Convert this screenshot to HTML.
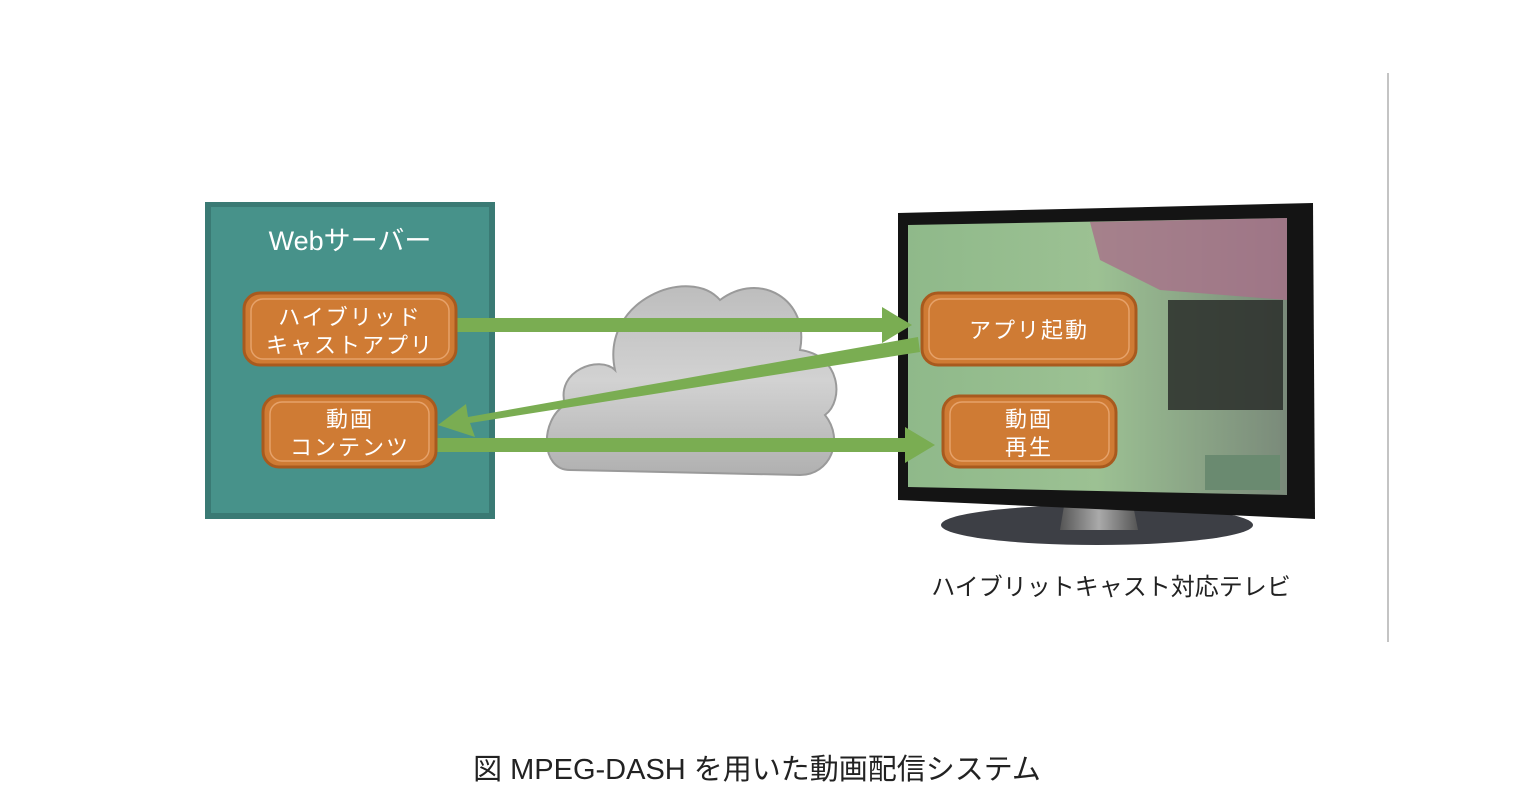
<!DOCTYPE html>
<html><head><meta charset="utf-8"><style>
body{margin:0;background:#fff;width:1516px;height:802px;overflow:hidden}
svg{display:block}
text{font-family:"Liberation Sans","Noto Sans CJK JP",sans-serif}
</style></head><body>
<svg width="1516" height="802" viewBox="0 0 1516 802">
<defs>
<linearGradient id="cl" x1="0" y1="0" x2="0" y2="1"><stop offset="0" stop-color="#bdbdbd"/><stop offset="0.5" stop-color="#d2d2d2"/><stop offset="1" stop-color="#b0b0b0"/></linearGradient>
<linearGradient id="scr" x1="0" y1="0" x2="1" y2="0"><stop offset="0" stop-color="#8fb98a"/><stop offset="0.5" stop-color="#9cc193"/><stop offset="1" stop-color="#7a8a7a"/></linearGradient>
<linearGradient id="neck" x1="0" y1="0" x2="1" y2="0"><stop offset="0" stop-color="#555"/><stop offset="0.5" stop-color="#aaa"/><stop offset="1" stop-color="#555"/></linearGradient>
</defs>
<line x1="1388" y1="73" x2="1388" y2="642" stroke="#888" stroke-width="1"/>
<rect x="205" y="202" width="290" height="317" fill="#3a7a74"/>
<rect x="211" y="207" width="278" height="306" fill="#47928a"/>
<text x="350" y="250" font-size="27" fill="#fff" text-anchor="middle">Webサーバー</text>
<path d="M570,470 C540,470 540,420 565,405 C555,370 600,355 615,370 C600,300 690,265 720,300 C760,270 810,300 800,350 C840,355 845,400 825,415 C845,440 830,475 800,475 Z" fill="url(#cl)" stroke="#9a9a9a" stroke-width="2"/>
<ellipse cx="1097" cy="525" rx="156" ry="20" fill="#3d3f45"/>
<path d="M1065,500 L1132,500 L1138,530 L1060,530 Z" fill="url(#neck)"/>
<path d="M898,213 L1313,203 L1315,519 L898,500 Z" fill="#141414"/>
<path d="M908,225 L1287,218 L1287,495 L908,487 Z" fill="url(#scr)"/>
<path d="M1090,222 L1287,218 L1287,300 L1160,290 L1100,260 Z" fill="#a8708a" opacity="0.8"/>
<rect x="1168" y="300" width="115" height="110" fill="#2a2e2a" opacity="0.85"/>
<rect x="1205" y="455" width="75" height="35" fill="#6a8a70"/>
<g fill="#7aad52">
<polygon points="457,318 882,318 882,307 912,325 882,343 882,332 457,332"/>
<polygon points="918,337 920,352 470,423 475,437 438,425 466,404 468,417"/>
<polygon points="437,438 905,438 905,427 935,445 905,463 905,452 437,452"/>
</g>
<g fill="#cf7b34" stroke="#a85a1e" stroke-width="3">
<rect x="244" y="293" width="212" height="72" rx="16"/>
<rect x="263" y="396" width="173" height="71" rx="16"/>
<rect x="922" y="293" width="214" height="72" rx="16"/>
<rect x="943" y="396" width="173" height="71" rx="16"/>
</g>
<g fill="none" stroke="#e6a26a" stroke-width="1.5">
<rect x="251" y="299" width="198" height="60" rx="12"/>
<rect x="270" y="402" width="159" height="59" rx="12"/>
<rect x="929" y="299" width="200" height="60" rx="12"/>
<rect x="950" y="402" width="159" height="59" rx="12"/>
</g>
<g fill="#fff" font-size="22" text-anchor="middle" letter-spacing="2">
<text x="350" y="325">ハイブリッド</text>
<text x="350" y="353">キャストアプリ</text>
<text x="350" y="427">動画</text>
<text x="350" y="455">コンテンツ</text>
<text x="1029" y="338">アプリ起動</text>
<text x="1029" y="427">動画</text>
<text x="1029" y="455">再生</text>
</g>
<text x="1111" y="595" font-size="24" fill="#222" text-anchor="middle">ハイブリットキャスト対応テレビ</text>
<text x="757" y="779" font-size="29" fill="#222" text-anchor="middle">図 MPEG-DASH を用いた動画配信システム</text>
</svg>
</body></html>
